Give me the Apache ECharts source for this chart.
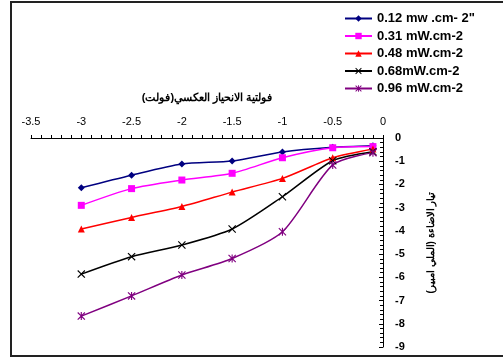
<!DOCTYPE html>
<html>
<head>
<meta charset="utf-8">
<script src="https://cdn.jsdelivr.net/npm/echarts@6/dist/echarts.min.js"></script>
<style>
  html, body { margin: 0; padding: 0; background: #fff; }
  #chart { width: 503px; height: 358px; }
</style>
</head>
<body>
<div id="chart"></div>
<script>
// reverse bias voltage (V)
const voltages = [-3, -2.5, -2, -1.5, -1, -0.5, -0.1]
const seriesNames = ['0.12 mw .cm- 2"', '0.31 mW.cm-2', '0.48 mW.cm-2', '0.68mW.cm-2', '0.96 mW.cm-2']
const i012 = [-2.14, -1.6, -1.12, -0.99, -0.6, -0.4, -0.33]
const i031 = [-2.9, -2.18, -1.81, -1.52, -0.85, -0.42, -0.37]
const i048 = [-3.92, -3.42, -2.95, -2.33, -1.74, -0.85, -0.47]
const i068 = [-5.86, -5.11, -4.61, -3.92, -2.53, -0.98, -0.59]
const i096 = [-7.67, -6.8, -5.9, -5.19, -4.04, -1.16, -0.63]

const crossPath = 'path://M0,1L1,0L5,4L9,0L10,1L6,5L10,9L9,10L5,6L1,10L0,9L4,5Z'
const starPath = 'path://M0,1L1,0L5,4L9,0L10,1L6,5L10,9L9,10L5,6L1,10L0,9L4,5ZM4.3,0L5.7,0L5.7,10L4.3,10Z'

const styles = [
  { color: '#000080', symbol: 'diamond', size: 7 },
  { color: '#FF00FF', symbol: 'rect', size: 7 },
  { color: '#FF0000', symbol: 'triangle', size: 7 },
  { color: '#000000', symbol: crossPath, size: 8 },
  { color: '#800080', symbol: starPath, size: 8 },
]
const allData = [i012, i031, i048, i068, i096]

const chart = echarts.init(document.getElementById('chart'))

chart.setOption({
  animation: false,
  textStyle: { fontFamily: 'Liberation Sans, Arial, sans-serif' },
  graphic: [{
    type: 'rect',
    shape: { x: 11, y: 2, width: 600, height: 354 },
    style: { fill: 'none', stroke: '#222', lineWidth: 2 },
    silent: true,
  }],
  legend: {
    orient: 'vertical',
    left: 344,
    top: 12,
    padding: 0,
    itemWidth: 27,
    itemHeight: 8,
    itemGap: 4.5,
    data: seriesNames,
    textStyle: { fontSize: 13, fontWeight: 'bold', color: '#000' },
  },
  grid: { left: 31, right: 120, top: 138, bottom: 11 },
  xAxis: {
    type: 'value',
    position: 'top',
    min: -3.5,
    max: 0,
    interval: 0.5,
    name: 'فولتية الانحياز العكسي(فولت)',
    nameLocation: 'middle',
    nameGap: 35,
    nameTextStyle: { fontSize: 11, fontWeight: 'bold', color: '#000' },
    axisLine: { onZero: false, lineStyle: { color: '#000', width: 1 } },
    axisTick: { show: true, length: 3, lineStyle: { color: '#000' } },
    minorTick: { show: true, splitNumber: 5, length: 3, lineStyle: { color: '#000' } },
    axisLabel: { fontSize: 11, color: '#000', margin: 11 },
    splitLine: { show: false },
  },
  yAxis: {
    type: 'value',
    position: 'right',
    min: -9,
    max: 0,
    interval: 1,
    name: 'تيار الاضاءة (الملي امبير)',
    nameLocation: 'middle',
    nameRotate: 90,
    nameGap: 43,
    nameTextStyle: { fontSize: 10, fontWeight: 'bold', color: '#000' },
    axisLine: { onZero: false, lineStyle: { color: '#000', width: 1 } },
    axisTick: { show: true, inside: true, length: 4, lineStyle: { color: '#000' } },
    minorTick: { show: true, splitNumber: 5, length: 3, lineStyle: { color: '#000' } },
    axisLabel: { fontSize: 11, fontWeight: 'bold', color: '#000', margin: 12 },
    splitLine: { show: false },
  },
  series: seriesNames.map((name, k) => ({
    name,
    type: 'line',
    smooth: 0.25,
    data: voltages.map((v, j) => [v, allData[k][j]]),
    symbol: styles[k].symbol,
    symbolSize: styles[k].size,
    lineStyle: { color: styles[k].color, width: 1.5 },
    itemStyle: { color: styles[k].color },
  })),
})
</script>
</body>
</html>
